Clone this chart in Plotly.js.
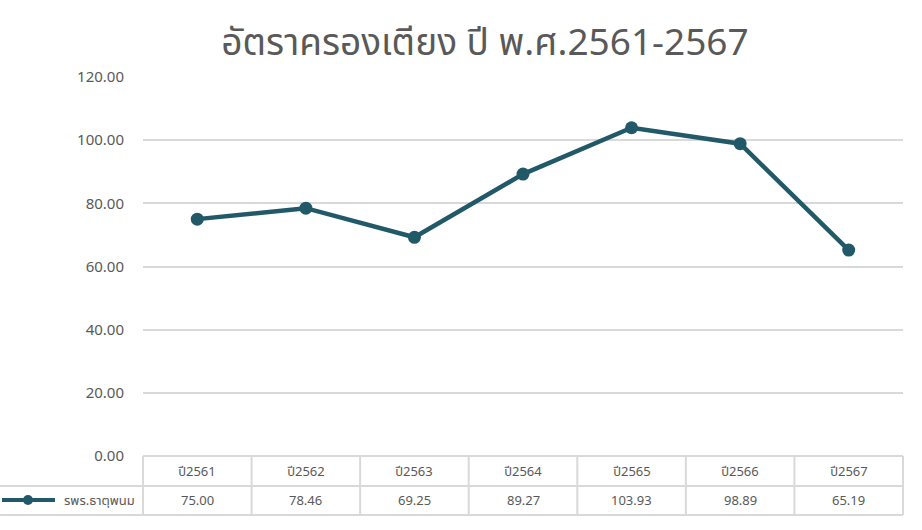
<!DOCTYPE html>
<html>
<head>
<meta charset="utf-8">
<script src="https://cdn.plot.ly/plotly-3.0.1.min.js"></script>
<style>html,body{margin:0;padding:0;background:#fff;}#chart{width:922px;height:530px;}</style>
</head>
<body>
<div id="chart"></div>
<script>
const chartTitle = "อัตราครองเตียง ปี พ.ศ.2561-2567";
const categories = ["ปี2561", "ปี2562", "ปี2563", "ปี2564", "ปี2565", "ปี2566", "ปี2567"];
const seriesName = "รพร.ธาตุพนม";
const seriesValues = [75.00, 78.46, 69.25, 89.27, 103.93, 98.89, 65.19];
const yTicks = [0, 20, 40, 60, 80, 100, 120];

const FONT = '"Noto Sans", "Noto Sans Thai", sans-serif';
const TXT = '#595959';
const GRID = '#d9d9d9';
const LINE = '#215968';

const W = 922, H = 530, L = 143, R = 19, T = 77, B = 74;
const plotH = H - T - B, plotW = W - L - R;
const py = px => (H - B - px) / plotH;   // pixel y -> paper y
const pxX = px => (px - L) / plotW;      // pixel x -> paper x

const n = categories.length;
const rowTop = py(456), rowMid = py(486), rowBot = py(515);

const shapes = [];
const tblLine = {color: GRID, width: 2};
shapes.push({type:'line', xref:'paper', yref:'paper', x0:0, x1:1, y0:rowTop, y1:rowTop, line:tblLine});
shapes.push({type:'line', xref:'paper', yref:'paper', x0:pxX(0), x1:1, y0:rowMid, y1:rowMid, line:tblLine});
shapes.push({type:'line', xref:'paper', yref:'paper', x0:pxX(0), x1:1, y0:rowBot, y1:rowBot, line:tblLine});
for (let i = 0; i <= n; i++) {
  shapes.push({type:'line', xref:'paper', yref:'paper', x0:i/n, x1:i/n, y0:rowTop, y1:rowBot, line:tblLine});
}
// legend key in table
const keyY = py(500);
shapes.push({type:'line', xref:'paper', yref:'paper', x0:pxX(2), x1:pxX(55), y0:keyY, y1:keyY, line:{color:LINE, width:4}});
shapes.push({type:'circle', xref:'paper', yref:'paper', xsizemode:'pixel', ysizemode:'pixel',
  xanchor:pxX(28), yanchor:keyY, x0:-5, x1:5, y0:-5, y1:5, fillcolor:LINE, line:{width:0}});

const annotations = [];
categories.forEach((c, i) => {
  annotations.push({xref:'x', yref:'paper', x:c, y:py(471), text:c, showarrow:false,
    font:{family:FONT, size:13, color:TXT}, xanchor:'center', yanchor:'middle'});
  annotations.push({xref:'x', yref:'paper', x:c, y:py(500), text:seriesValues[i].toFixed(2), showarrow:false,
    font:{family:FONT, size:13, color:TXT}, xanchor:'center', yanchor:'middle'});
});
annotations.push({xref:'paper', yref:'paper', x:pxX(99), y:py(500), text:seriesName, showarrow:false,
  font:{family:FONT, size:13, color:TXT}, xanchor:'center', yanchor:'middle'});

const traces = [
  {type:'scatter', mode:'lines+markers', x:categories, y:seriesValues, name:seriesName,
   line:{color:LINE, width:4.5}, marker:{color:LINE, size:13}, cliponaxis:false, showlegend:false}
];

const layout = {
  width: W, height: H,
  margin: {l:L, r:R, t:T, b:B},
  paper_bgcolor: '#fff', plot_bgcolor: '#fff',
  title: {text: chartTitle, font:{family:FONT, size:37, color:TXT}, x:485/W, xanchor:'center',
          xref:'container', y:1 - 42/H, yref:'container', yanchor:'middle'},
  xaxis: {type:'category', range:[-0.5, n - 0.5], showticklabels:false, showgrid:false,
          zeroline:false, showline:false, ticks:''},
  yaxis: {range:[0, 120], tickvals:yTicks, tickformat:'.2f', showgrid:true, gridcolor:GRID, gridwidth:2,
          zeroline:false, showline:false, ticks:'', ticklabelstandoff:18,
          tickfont:{family:FONT, size:15, color:TXT}},
  shapes: shapes,
  annotations: annotations
};

Plotly.newPlot('chart', traces, layout, {displayModeBar:false, staticPlot:true});
</script>
</body>
</html>
